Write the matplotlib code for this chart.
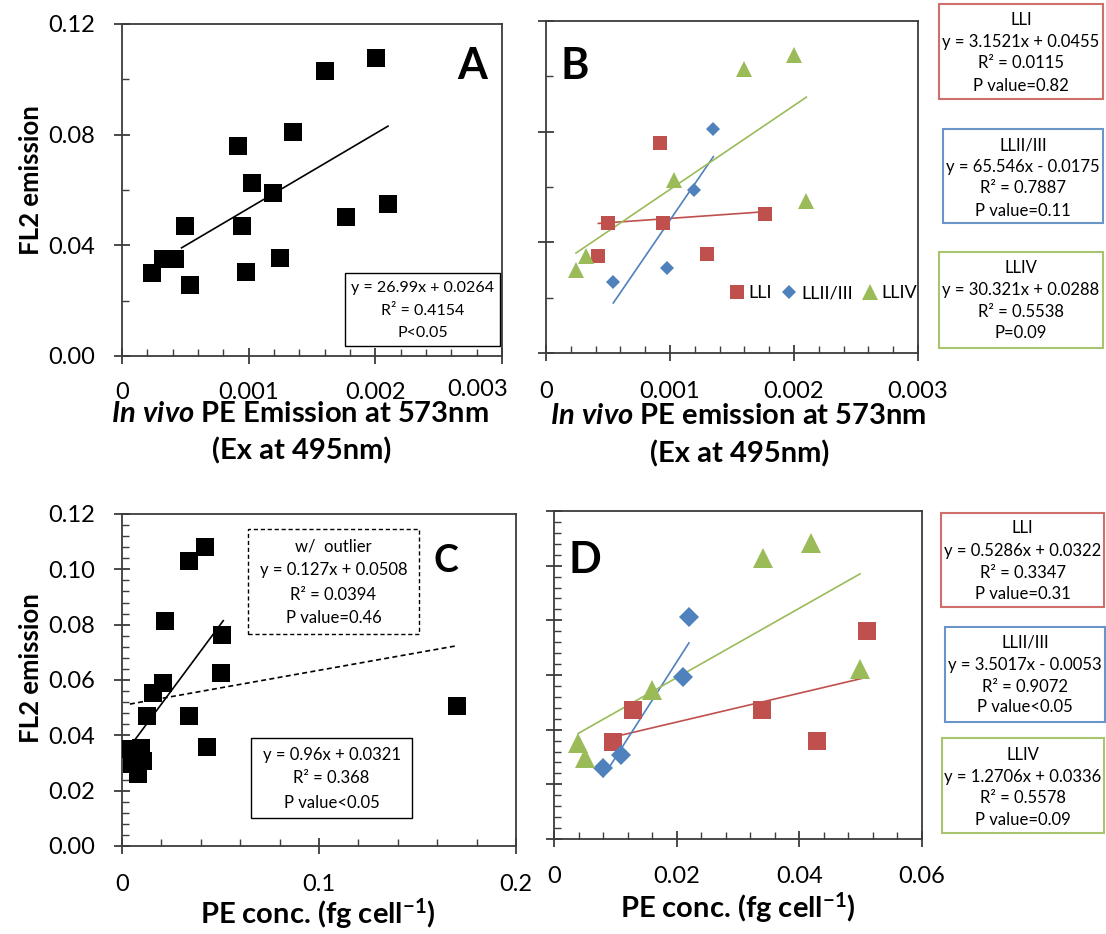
import matplotlib
matplotlib.use('Agg')
import matplotlib.pyplot as plt
from matplotlib.patches import Rectangle
from matplotlib.ticker import MultipleLocator, FixedLocator, FixedFormatter
import numpy as np

plt.rcParams['font.family'] = ['Lato', 'DejaVu Sans']
plt.rcParams['mathtext.fontset'] = 'custom'
plt.rcParams['mathtext.rm'] = 'Lato'
plt.rcParams['mathtext.it'] = 'Lato:italic:bold'
plt.rcParams['mathtext.bf'] = 'Lato:bold'

W, H = 1106, 934

# ---------------- data ----------------
# Panel A: in vivo PE emission vs FL2
a_x = [0.000233, 0.00032, 0.000418, 0.000497, 0.000537, 0.000915, 0.000947, 0.000979,
       0.00103, 0.00119, 0.00125, 0.00135, 0.0016, 0.00177, 0.002005, 0.0021]
a_y = [0.0300, 0.0352, 0.0352, 0.0469, 0.0255, 0.0759, 0.0469, 0.0304,
       0.0625, 0.0589, 0.0355, 0.0810, 0.1029, 0.0501, 0.1078, 0.0551]
a_fit = [26.99, 0.0264]
a_fit_x = [0.00047, 0.0021]
a_stats = ["y = 26.99x + 0.0264", "R\u00b2 = 0.4154", "P<0.05"]

# Panel B: by light level group
series_names = ["LLI", "LLII/III", "LLIV"]
b_lli_x = [0.000422, 0.000503, 0.000919, 0.000946, 0.0013, 0.00177]
b_lli_y = [0.0351, 0.0470, 0.0759, 0.0470, 0.0359, 0.0502]
b_ll23_x = [0.000543, 0.000978, 0.00119, 0.00135]
b_ll23_y = [0.0257, 0.0307, 0.0590, 0.0811]
b_lliv_x = [0.000242, 0.000323, 0.00103, 0.0016, 0.0020, 0.0021]
b_lliv_y = [0.0301, 0.0350, 0.0627, 0.1028, 0.1078, 0.0548]
b_fits = [[3.1521, 0.0455], [65.546, -0.0175], [30.321, 0.0288]]
b_stats = [["LLI", "y = 3.1521x + 0.0455", "R\u00b2 = 0.0115", "P value=0.82"],
           ["LLII/III", "y = 65.546x - 0.0175", "R\u00b2 = 0.7887", "P value=0.11"],
           ["LLIV", "y = 30.321x + 0.0288", "R\u00b2 = 0.5538", "P=0.09"]]

# Panel C: PE conc vs FL2 (with outlier)
c_x = [0.0040, 0.0050, 0.0080, 0.0096, 0.0109, 0.0129, 0.0158, 0.0208,
       0.0220, 0.0341, 0.0341, 0.0420, 0.0429, 0.0500, 0.0510, 0.1700]
c_y = [0.0350, 0.0295, 0.0259, 0.0354, 0.0307, 0.0470, 0.0553, 0.0589,
       0.0812, 0.1029, 0.0470, 0.1081, 0.0358, 0.0627, 0.0761, 0.0505]
c_fit = [0.96, 0.0321]
c_fit_x = [0.0040, 0.0514]
c_fit_out = [0.127, 0.0508]
c_fit_out_x = [0.0040, 0.1700]
c_stats = ["y = 0.96x + 0.0321", "R\u00b2 = 0.368", "P value<0.05"]
c_stats_out = ["w/  outlier", "y = 0.127x + 0.0508", "R\u00b2 = 0.0394", "P value=0.46"]

# Panel D: by group
d_lli_x = [0.00957, 0.01293, 0.0339, 0.0429, 0.0510]
d_lli_y = [0.0354, 0.0472, 0.0472, 0.0359, 0.0762]
d_ll23_x = [0.00804, 0.01087, 0.0210, 0.0220]
d_ll23_y = [0.0259, 0.0307, 0.0591, 0.0813]
d_lliv_x = [0.00397, 0.00505, 0.0160, 0.0340, 0.0419, 0.0499]
d_lliv_y = [0.0350, 0.0295, 0.0545, 0.1027, 0.1082, 0.0621]
d_fits = [[0.5286, 0.0322], [3.5017, -0.0053], [1.2706, 0.0336]]
d_stats = [["LLI", "y = 0.5286x + 0.0322", "R\u00b2 = 0.3347", "P value=0.31"],
           ["LLII/III", "y = 3.5017x - 0.0053", "R\u00b2 = 0.9072", "P value<0.05"],
           ["LLIV", "y = 1.2706x + 0.0336", "R\u00b2 = 0.5578", "P value=0.09"]]

# ---------------- style ----------------
RED, BLUE, GREEN = '#C0504D', '#4F81BD', '#9BBB59'
RED_E, BLUE_E, GREEN_E = '#CF6F6C', '#6A95C8', '#A8C46E'
AX_C = '#3c3c3c'
TICK_FS = 17

fig = plt.figure(figsize=(W / 100, H / 100), dpi=100)


def fx(px):
    return px / W


def fy(py):
    return 1 - py / H


def add_axes(x0, y0, x1, y1):
    return fig.add_axes([fx(x0), fy(y1), fx(x1) - fx(x0), fy(y0) - fy(y1)])


def style(ax, xlim, ylim, xt, xl, xminor, yt, yl, yminor, xpad, ypad=14):
    ax.set_xlim(*xlim)
    ax.set_ylim(*ylim)
    ax.xaxis.set_major_locator(FixedLocator(xt))
    ax.xaxis.set_major_formatter(FixedFormatter(xl))
    ax.xaxis.set_minor_locator(MultipleLocator(xminor))
    ax.yaxis.set_major_locator(FixedLocator(yt))
    ax.yaxis.set_major_formatter(FixedFormatter(yl))
    ax.yaxis.set_minor_locator(MultipleLocator(yminor))
    for s in ax.spines.values():
        s.set_color(AX_C)
        s.set_linewidth(1.3)
    ax.tick_params(which='major', direction='inout', length=11, width=1.3, color=AX_C,
                   labelsize=TICK_FS, labelcolor='black')
    ax.tick_params(axis='x', which='major', pad=xpad)
    ax.tick_params(axis='y', which='major', pad=ypad)
    ax.tick_params(which='minor', direction='in', length=5, width=1.0, color=AX_C)


def box(x0, y0, x1, y1, lines, ys, ec, ls='-', lw=1.5, fs=12):
    fig.add_artist(Rectangle((fx(x0), fy(y1)), fx(x1) - fx(x0), fy(y0) - fy(y1),
                             transform=fig.transFigure, fill=False, ec=ec, lw=lw, ls=ls))
    cx = (x0 + x1) / 2
    for t, yy in zip(lines, ys):
        fig.text(fx(cx), fy(yy), t, ha='center', va='center', fontsize=fs)


def fit_line(ax, coef, xr, color, ls='-', lw=1.2):
    xr = np.array(xr)
    ax.plot(xr, coef[0] * xr + coef[1], color=color, ls=ls, lw=lw, zorder=2)


# ---------------- Panel A ----------------
axA = add_axes(122, 24, 502, 356)
style(axA, (0, 0.003), (0, 0.12), [0, 0.001, 0.002, 0.003], ['0', '0.001', '0.002', ''], 0.0002,
      [0, 0.04, 0.08, 0.12], ['0.00', '0.04', '0.08', '0.12'], 0.02, 13)
axA.plot(a_x, a_y, 's', color='black', ms=13, mew=0, zorder=3)
fit_line(axA, a_fit, a_fit_x, 'black')
fig.text(fx(478), fy(390), '0.003', ha='center', va='center', fontsize=TICK_FS)
fig.text(fx(472), fy(66), 'A', ha='center', va='center', fontsize=31, fontweight='bold')
box(345, 273, 500, 346, a_stats, [288, 311, 333], 'black', lw=1.0, fs=11.5)

# ---------------- Panel B ----------------
axB = add_axes(546, 21, 918, 353)
style(axB, (0, 0.003), (0, 0.12), [0, 0.001, 0.002, 0.003], ['0', '0.001', '0.002', '0.003'], 0.0002,
      [0, 0.04, 0.08, 0.12], ['', '', '', ''], 0.02, 15)
hB1, = axB.plot(b_lli_x, b_lli_y, 's', color=RED, ms=10.5, mew=0, zorder=3)
hB2, = axB.plot(b_ll23_x, b_ll23_y, 'D', color=BLUE, ms=7.6, mew=0, zorder=3)
hB3, = axB.plot(b_lliv_x, b_lliv_y, '^', color=GREEN, ms=11, mew=0, zorder=3)
fit_line(axB, b_fits[0], [min(b_lli_x), max(b_lli_x)], RED)
fit_line(axB, b_fits[1], [min(b_ll23_x), max(b_ll23_x)], BLUE)
fit_line(axB, b_fits[2], [min(b_lliv_x), max(b_lliv_x)], GREEN)
axB.legend([hB1, hB2, hB3], series_names, loc='center', bbox_to_anchor=(0.745, 0.18),
           ncol=3, frameon=False, fontsize=13, handlelength=0.9, handletextpad=0.2,
           columnspacing=0.5, borderpad=0)
fig.text(fx(575), fy(66), 'B', ha='center', va='center', fontsize=31, fontweight='bold')
box(939, 4, 1103, 99, b_stats[0], [20, 42, 63, 86], RED_E)
box(943, 129, 1103, 223, b_stats[1], [145, 167, 188, 211], BLUE_E)
box(939, 252, 1103, 348, b_stats[2], [268, 290, 312, 333], GREEN_E)

# ---------------- Panel C ----------------
axC = add_axes(122, 514, 516, 846)
style(axC, (0, 0.2), (0, 0.12), [0, 0.1, 0.2], ['0', '0.1', '0.2'], 0.02,
      list(np.round(np.arange(0, 0.121, 0.02), 2)),
      ['0.00', '0.02', '0.04', '0.06', '0.08', '0.10', '0.12'], 0.004, 15)
axC.plot(c_x, c_y, 's', color='black', ms=13.5, mew=0, zorder=3)
fit_line(axC, c_fit, c_fit_x, 'black')
fit_line(axC, c_fit_out, c_fit_out_x, 'black', ls=(0, (3, 2)))
fig.text(fx(446), fy(561), 'C', ha='center', va='center', fontsize=27, fontweight='bold')
box(248, 529, 419, 634, c_stats_out, [547, 570, 595, 618], 'black', ls=(0, (3, 2)), lw=1.0)
box(251, 738, 412, 818, c_stats, [755, 778, 803], 'black', lw=1.0)

# ---------------- Panel D ----------------
axD = add_axes(554, 511, 922, 839)
style(axD, (0, 0.06), (0, 0.12), [0, 0.02, 0.04, 0.06], ['0', '0.02', '0.04', '0.06'], 0.004,
      list(np.round(np.arange(0, 0.121, 0.02), 2)), [''] * 7, 0.004, 14)
axD.plot(d_lli_x, d_lli_y, 's', color=RED, ms=13.5, mew=0, zorder=3)
axD.plot(d_ll23_x, d_ll23_y, 'D', color=BLUE, ms=10, mew=0, zorder=3)
axD.plot(d_lliv_x, d_lliv_y, '^', color=GREEN, ms=14.5, mew=0, zorder=3)
fit_line(axD, d_fits[0], [min(d_lli_x), max(d_lli_x)], RED)
fit_line(axD, d_fits[1], [min(d_ll23_x), max(d_ll23_x)], BLUE)
fit_line(axD, d_fits[2], [min(d_lliv_x), max(d_lliv_x)], GREEN)
fig.text(fx(585), fy(560), 'D', ha='center', va='center', fontsize=31, fontweight='bold')
box(941, 513, 1104, 607, d_stats[0], [528, 551, 573, 594], RED_E)
box(945, 627, 1105, 722, d_stats[1], [643, 665, 687, 707], BLUE_E)
box(942, 738, 1104, 833, d_stats[2], [755, 777, 798, 820], GREEN_E)

# ---------------- axis titles ----------------
XL_FS = 21
YL_FS = 18.5
fig.text(fx(300), fy(414), r'$\mathit{In\ vivo}$ PE Emission at 573nm', ha='center', va='center',
         fontsize=XL_FS, fontweight='bold')
fig.text(fx(302), fy(451), '(Ex at 495nm)', ha='center', va='center', fontsize=XL_FS, fontweight='bold')
fig.text(fx(738), fy(416), r'$\mathit{In\ vivo}$ PE emission at 573nm', ha='center', va='center',
         fontsize=XL_FS, fontweight='bold')
fig.text(fx(740), fy(454), '(Ex at 495nm)', ha='center', va='center', fontsize=XL_FS, fontweight='bold')
fig.text(fx(318), fy(914), r'PE conc. (fg cell$^{\mathbf{-1}}$)', ha='center', va='center',
         fontsize=XL_FS, fontweight='bold')
fig.text(fx(738), fy(908), r'PE conc. (fg cell$^{\mathbf{-1}}$)', ha='center', va='center',
         fontsize=XL_FS, fontweight='bold')
fig.text(fx(31), fy(180), 'FL2 emission', rotation=90, ha='center', va='center',
         fontsize=YL_FS, fontweight='bold')
fig.text(fx(31), fy(668), 'FL2 emission', rotation=90, ha='center', va='center',
         fontsize=YL_FS, fontweight='bold')

fig.savefig('out.png', dpi=100)
